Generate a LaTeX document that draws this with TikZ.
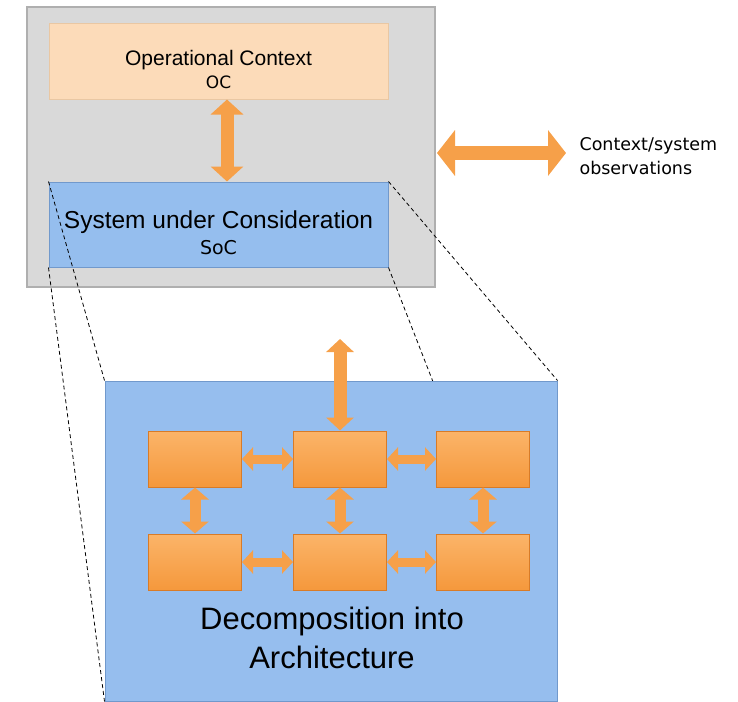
\documentclass[tikz,border=0pt]{standalone}
\usepackage{fontspec}
\setmainfont{Liberation Sans}
\newfontfamily\vfont{DejaVu Sans}
\usetikzlibrary{positioning}
\usetikzlibrary{arrows.meta}
\definecolor{graybg}{HTML}{D9D9D9}
\definecolor{grayline}{HTML}{AFAFAF}
\definecolor{ocfill}{HTML}{FCDBB9}
\definecolor{ocline}{HTML}{E9C7A3}
\definecolor{socfill}{HTML}{95BEEE}
\definecolor{socline}{HTML}{7199CC}
\definecolor{bigfill}{HTML}{96BEEE}
\definecolor{partlight}{HTML}{FBB469}
\definecolor{partdark}{HTML}{F5983C}
\definecolor{partline}{HTML}{D87B27}
\definecolor{arrowor}{HTML}{F6A049}
\pgfdeclarelayer{back}
\pgfdeclarelayer{mid}
\pgfsetlayers{back,mid,main}
\tikzset{
    graybox/.style = {rectangle, draw=grayline, line width=1.5pt, fill=graybg, minimum width=408pt, minimum height=280pt},
    ocbox/.style = {rectangle, draw=ocline, line width=1pt, fill=ocfill, minimum width=339pt, minimum height=75pt},
    socbox/.style = {rectangle, draw=socline, line width=1pt, fill=socfill, minimum width=339pt, minimum height=85pt},
    bigbox/.style = {rectangle, draw=socline, line width=1pt, fill=bigfill, minimum width=452pt, minimum height=320pt},
    partbox/.style = {rectangle, draw=partline, line width=1pt, top color=partlight, bottom color=partdark, minimum width=93pt, minimum height=56pt},
    oclabel/.style = {align=center, text=black, font=\fontsize{21}{23}\selectfont},
    soclabel/.style = {align=center, text=black, font=\fontsize{24.5}{26}\selectfont},
    biglabel/.style = {align=center, text=black, font=\fontsize{31}{39}\selectfont},
    obslabel/.style = {align=left, anchor=west, text=black, font=\vfont\fontsize{17.5}{24}\selectfont},
    arrowbig/.style = {line width=13pt, arrowor, >={Triangle[length=15pt,width=32pt]}, <->},
    arrowobs/.style = {line width=14pt, arrowor, >={Triangle[length=18pt,width=45pt]}, <->},
    arrowtop/.style = {line width=13pt, arrowor, >={Triangle[length=13pt,width=27pt]}, <->},
    arrowh/.style = {line width=9pt, arrowor, >={Triangle[length=11pt,width=23pt]}, <->},
    arrowv/.style = {line width=11pt, arrowor, >={Triangle[length=12pt,width=27pt]}, <->},
    zoomline/.style = {-, line width=0.8pt, black, dash pattern=on 4pt off 3pt}
}
\begin{document}
\begin{tikzpicture}[x=10pt,y=-10pt]
\useasboundingbox (0,0) rectangle (73.8,70.1);
\begin{pgfonlayer}{back}
\node[graybox] at (23.1,14.7) (gray) {};
\node[ocbox] at (21.85,6.15) (oc) {};
\node[oclabel] at (21.85,7.0) (octext) {Operational Context\\{\vfont\fontsize{17}{18}\selectfont OC}};
\node[socbox] at (21.85,22.45) (soc) {};
\node[soclabel] at (21.85,23.3) (soctext) {System under Consideration\\{\vfont\fontsize{19}{21}\selectfont SoC}};
\draw[arrowbig] ([xshift=8.5pt]oc.south) -- ([xshift=8.5pt]soc.north);
\coordinate (obsleft) at (43.7,15.3);
\coordinate (obsright) at (56.6,15.3);
\draw[arrowobs] (obsleft) -- (obsright);
\node[obslabel] at (57.6,15.6) (obstext) {Context/system\\observations};
\end{pgfonlayer}
%
\node[bigbox] at (33.1,54.1) (big) {};
\begin{pgfonlayer}{mid}
\draw[zoomline] (soc.north west) -- (big.north west);
\draw[zoomline] (soc.south west) -- (big.south west);
\draw[zoomline] (soc.north east) -- (big.north east);
\draw[zoomline] (soc.south east) -- (big.south east);
\end{pgfonlayer}
%
\node[partbox] at (19.5,45.9) (p1) {};
\node[partbox] at (34.0,45.9) (p2) {};
\node[partbox] at (48.3,45.9) (p3) {};
\node[partbox] at (19.5,56.2) (p4) {};
\node[partbox] at (34.0,56.2) (p5) {};
\node[partbox] at (48.3,56.2) (p6) {};
\node[biglabel] at (33.2,63.8) (bigtext) {Decomposition into\\Architecture};
%
\coordinate (topin) at (34.0,33.9);
\draw[arrowtop] (topin) -- (p2);
\draw[arrowh] (p1) -- (p2);
\draw[arrowh] (p2) -- (p3);
\draw[arrowh] (p4) -- (p5);
\draw[arrowh] (p5) -- (p6);
\draw[arrowv] (p1) -- (p4);
\draw[arrowv] (p2) -- (p5);
\draw[arrowv] (p3) -- (p6);
\end{tikzpicture}
\end{document}
